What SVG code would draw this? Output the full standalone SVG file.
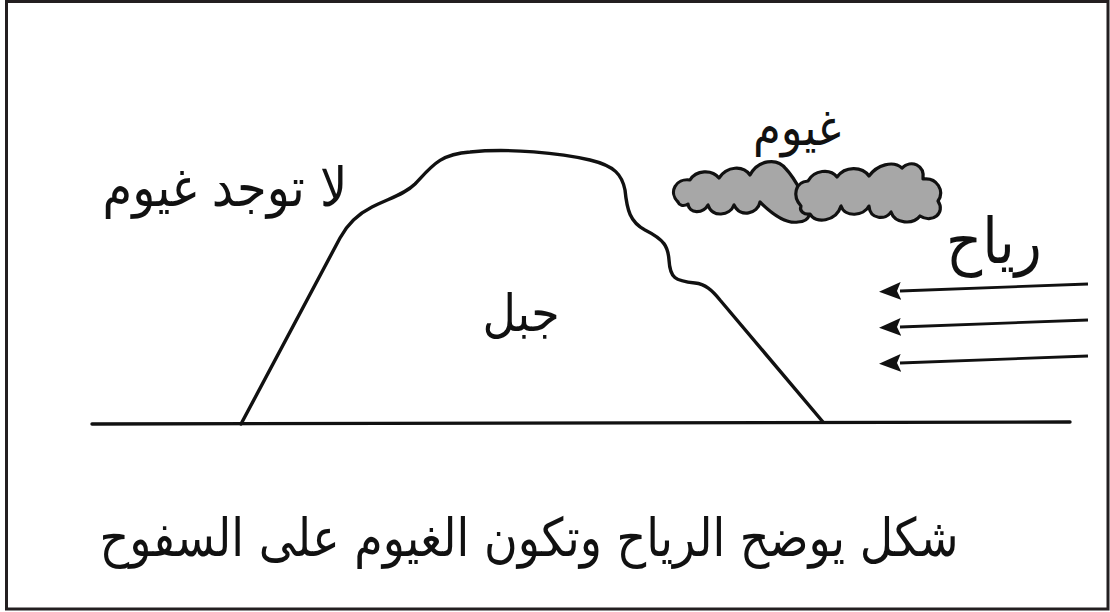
<svg xmlns="http://www.w3.org/2000/svg" width="1110" height="612" viewBox="0 0 1110 612">
  <style>
    .ln { fill: none; stroke: #111; stroke-width: 3.4; stroke-linejoin: round; stroke-linecap: round; }
    .cloud { fill: #a7a7a7; stroke: #111; stroke-width: 3.2; stroke-linejoin: round; }
    .lbl { font-family: "DejaVu Sans", "Noto Sans", sans-serif; fill: #111; text-anchor: middle; }
    .wind { fill: none; stroke: #111; stroke-width: 2.8; marker-end: url(#head); }
  </style>
  <defs>
    <marker id="head" viewBox="0 0 22 18" refX="1" refY="9" markerWidth="22" markerHeight="18" markerUnits="userSpaceOnUse" orient="auto">
      <path d="M22,9 L0,0 L4,9 L0,18 Z" fill="#111"/>
    </marker>
  </defs>

  <!-- frame -->
  <rect x="0" y="0" width="1110" height="612" fill="#fff"/>
  <rect x="6.5" y="1.5" width="1101.5" height="607.5" fill="none" stroke="#231f20" stroke-width="3"/>

  <!-- ground -->
  <g id="ground">
    <line x1="92" y1="424" x2="1070" y2="422" class="ln"/>
  </g>

  <!-- mountain -->
  <g id="mountain">
    <path class="ln" d="M241,424 L340,238 C348,223 358,214 372,207 C390,198 405,194 415,184 C432,166 440,154 470,152 C510,148 560,153 590,160 C615,166 622,175 625,190 C627,210 630,222 645,230 C665,240 668,247 669,260 C670,278 675,281 695,283 C705,284 712,290 720,300 L823,422"/>
    <text class="lbl" transform="translate(521 331) scale(1 1.12)" font-size="46">جبل</text>
  </g>

  <!-- clouds -->
  <g id="clouds">
    <path class="cloud" d="M678,202 C668,192 676,178 690,180 C696,170 712,169 719,178 C727,166 743,165 750,175 C758,160 777,157 786,169 C794,177 800,190 806,200 C814,210 810,222 798,222 C786,224 772,214 760,202 C758,214 740,218 734,205 C730,216 712,218 708,205 C703,214 689,214 688,204 C683,207 679,205 678,202 Z"/>
    <path class="cloud" d="M801,206 C792,196 795,182 808,181 C814,170 830,168 837,177 C845,166 862,166 869,176 C877,165 893,160 902,168 C911,159 925,165 923,179 C937,177 945,191 938,201 C946,213 932,224 920,216 C913,225 895,224 891,212 C886,220 870,220 869,206 C864,216 845,218 841,206 C836,222 815,224 810,214 C804,215 799,211 801,206 Z"/>
    <text class="lbl" transform="translate(797 145) scale(1 1.12)" font-size="45">غيوم</text>
  </g>

  <!-- labels -->
  <g id="no-clouds">
    <text class="lbl" transform="translate(225 206) scale(1 1.12)" font-size="48">لا توجد غيوم</text>
  </g>

  <!-- wind arrows -->
  <g id="wind">
    <text class="lbl" transform="translate(994 263) scale(1 1.12)" font-size="56">رياح</text>
    <g id="connectors">
      <line class="wind" x1="1088" y1="284" x2="900" y2="291"/>
      <line class="wind" x1="1088" y1="320" x2="900" y2="327"/>
      <line class="wind" x1="1088" y1="356" x2="900" y2="363"/>
    </g>
  </g>

  <!-- caption -->
  <g id="caption">
    <text class="lbl" transform="translate(529 556) scale(1 1.15)" font-size="46">شكل يوضح الرياح وتكون الغيوم على السفوح</text>
  </g>
</svg>
